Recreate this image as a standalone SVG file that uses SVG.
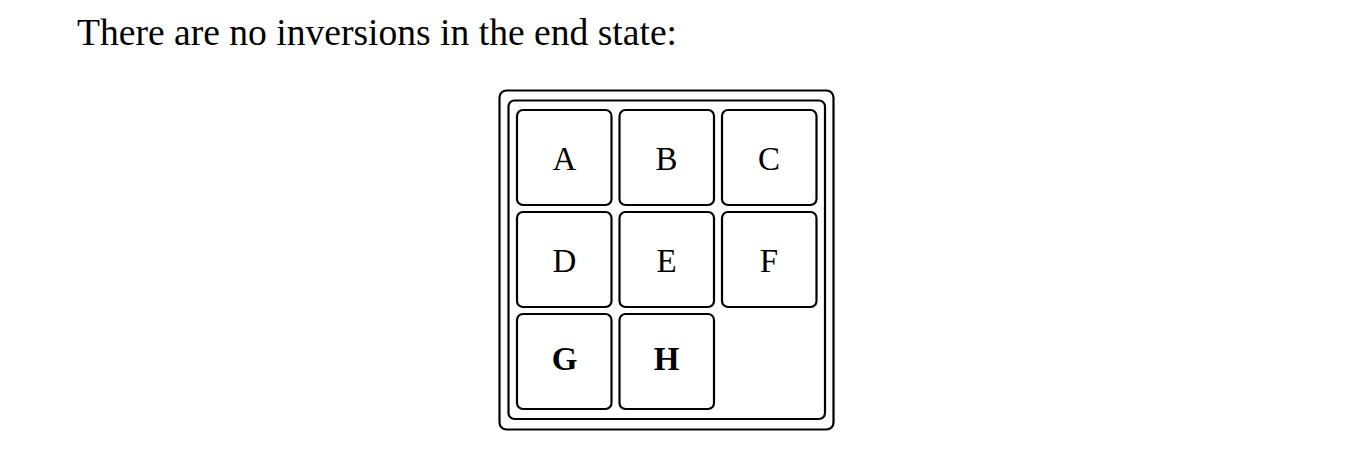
<svg xmlns="http://www.w3.org/2000/svg" width="1352" height="468" viewBox="0 0 1352 468">
<style>
.frame{fill:#fff;stroke:#000;stroke-width:2.2}
.tile{fill:#fff;stroke:#000;stroke-width:2.2}
.lbl{font-family:"Liberation Serif","Times New Roman",serif;font-size:33px;fill:#000;text-anchor:middle}
.b{font-weight:bold}
.cap{font-family:"Liberation Serif","Times New Roman",serif;font-size:37.6px;fill:#000}
</style>
<rect width="1352" height="468" fill="#fff"/>
<text class="cap" x="77" y="44.5">There are no inversions in the end state:</text>
<g id="board">
<rect class="frame" x="499.5" y="90.5" width="334" height="339" rx="7"/>
<rect class="frame" x="508.5" y="100.5" width="316.5" height="318.5" rx="6"/>
</g>
<g id="tileA"><rect class="tile" x="517" y="110" width="94.5" height="95" rx="6"/><text class="lbl" x="564.5" y="169.5">A</text></g>
<g id="tileB"><rect class="tile" x="619.5" y="110" width="94.5" height="95" rx="6"/><text class="lbl" x="666.5" y="169.5">B</text></g>
<g id="tileC"><rect class="tile" x="722" y="110" width="94.5" height="95" rx="6"/><text class="lbl" x="769" y="169.5">C</text></g>
<g id="tileD"><rect class="tile" x="517" y="212" width="94.5" height="95" rx="6"/><text class="lbl" x="564.5" y="271.5">D</text></g>
<g id="tileE"><rect class="tile" x="619.5" y="212" width="94.5" height="95" rx="6"/><text class="lbl" x="666.5" y="271.5">E</text></g>
<g id="tileF"><rect class="tile" x="722" y="212" width="94.5" height="95" rx="6"/><text class="lbl" x="769" y="271.5">F</text></g>
<g id="tileG"><rect class="tile" x="517" y="314" width="94.5" height="95" rx="6"/><text class="lbl b" x="564.5" y="370">G</text></g>
<g id="tileH"><rect class="tile" x="619.5" y="314" width="94.5" height="95" rx="6"/><text class="lbl b" x="666.5" y="370">H</text></g>
<g id="connectors"></g>
</svg>
